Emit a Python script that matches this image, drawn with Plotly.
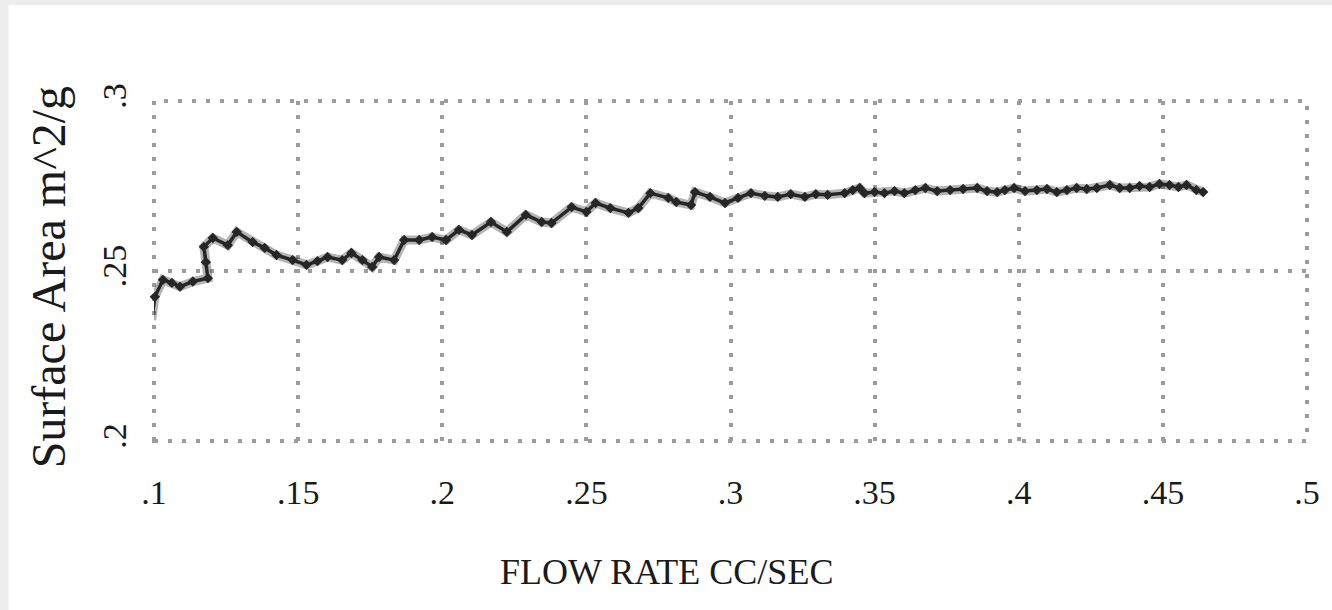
import plotly.graph_objects as go

# Flow rate (cc/sec) and measured surface area (m^2/g)
flow_rate = [
    0.0992, 0.1003, 0.1031, 0.1062, 0.1090, 0.1135, 0.1187, 0.1180, 0.1173, 0.1204,
    0.1256, 0.1287, 0.1342, 0.1384, 0.1425, 0.1481, 0.1529, 0.1567, 0.1602, 0.1653,
    0.1685, 0.1723, 0.1757, 0.1781, 0.1833, 0.1868, 0.1920, 0.1965, 0.2013, 0.2058,
    0.2103, 0.2169, 0.2224, 0.2290, 0.2345, 0.2379, 0.2449, 0.2500, 0.2532, 0.2583,
    0.2646, 0.2680, 0.2722, 0.2784, 0.2812, 0.2863, 0.2877, 0.2929, 0.2981, 0.3026,
    0.3071, 0.3119, 0.3164, 0.3209, 0.3258, 0.3296, 0.3337, 0.3396, 0.3424, 0.3448,
    0.3465, 0.3500, 0.3534, 0.3569, 0.3603, 0.3641, 0.3676, 0.3717, 0.3762, 0.3807,
    0.3856, 0.3890, 0.3925, 0.3952, 0.3984, 0.4022, 0.4063, 0.4098, 0.4132, 0.4167,
    0.4201, 0.4236, 0.4271, 0.4316, 0.4350, 0.4385, 0.4419, 0.4454, 0.4488, 0.4523,
    0.4554, 0.4582, 0.4616, 0.4640,
]
surface_area = [
    0.2356, 0.2424, 0.2474, 0.2465, 0.2454, 0.2469, 0.2479, 0.2526, 0.2571, 0.2597,
    0.2576, 0.2615, 0.2585, 0.2568, 0.2547, 0.2532, 0.2518, 0.2529, 0.2541, 0.2532,
    0.2553, 0.2532, 0.2512, 0.2541, 0.2532, 0.2591, 0.2591, 0.2600, 0.2591, 0.2621,
    0.2606, 0.2644, 0.2615, 0.2665, 0.2644, 0.2641, 0.2688, 0.2674, 0.2700, 0.2685,
    0.2671, 0.2685, 0.2729, 0.2715, 0.2703, 0.2694, 0.2732, 0.2718, 0.2700, 0.2715,
    0.2729, 0.2721, 0.2718, 0.2726, 0.2718, 0.2726, 0.2724, 0.2729, 0.2738, 0.2744,
    0.2729, 0.2732, 0.2729, 0.2735, 0.2729, 0.2738, 0.2744, 0.2735, 0.2738, 0.2741,
    0.2744, 0.2735, 0.2732, 0.2738, 0.2744, 0.2735, 0.2738, 0.2741, 0.2732, 0.2738,
    0.2744, 0.2741, 0.2744, 0.2753, 0.2744, 0.2744, 0.2750, 0.2747, 0.2756, 0.2753,
    0.2747, 0.2753, 0.2738, 0.2732,
]

x_ticks = [0.1, 0.15, 0.2, 0.25, 0.3, 0.35, 0.4, 0.45, 0.5]
x_tick_text = [".1", ".15", ".2", ".25", ".3", ".35", ".4", ".45", ".5"]
y_ticks = [0.2, 0.25, 0.3]
y_tick_text = [".2", ".25", ".3"]

SERIF = "Liberation Serif, Times New Roman, serif"
DOT_COLOR = "#9c9c9c"
DOT_DASH = "4px,10px"
GRID = dict(showgrid=True, gridcolor=DOT_COLOR, gridwidth=4, griddash=DOT_DASH,
            zeroline=False, showline=False, ticks="")

fig = go.Figure()

# soft halo under the series line
fig.add_trace(go.Scatter(
    x=flow_rate, y=surface_area, mode="lines",
    line=dict(color="rgba(40,40,40,0.35)", width=9),
    hoverinfo="skip", showlegend=False, cliponaxis=False,
))
fig.add_trace(go.Scatter(
    x=flow_rate, y=surface_area, mode="lines+markers",
    line=dict(color="#262626", width=3.5),
    marker=dict(symbol="diamond", size=8, color="#262626"),
    showlegend=False, cliponaxis=False,
))

fig.update_layout(
    width=1332, height=610,
    margin=dict(l=154, r=21, t=101, b=169, pad=0),
    paper_bgcolor="#ededed",
    plot_bgcolor="white",
    font=dict(family=SERIF, color="#1a1a1a"),
    xaxis=dict(range=[0.1, 0.5], tickvals=x_ticks, ticktext=x_tick_text,
               tickfont=dict(size=34, family=SERIF), ticklabelstandoff=28, **GRID),
    yaxis=dict(range=[0.2, 0.3], tickvals=y_ticks, ticktext=y_tick_text, tickangle=-90,
               tickfont=dict(size=34, family=SERIF), ticklabelstandoff=20, **GRID),
    shapes=[
        # white page area inside the thin grey frame
        dict(type="rect", xref="paper", yref="paper",
             x0=(8 - 154) / 1157, x1=(1340 - 154) / 1157,
             y0=(441 - 620) / 340, y1=(441 - 5) / 340,
             fillcolor="white", line=dict(width=0), layer="below"),
        # dotted border of the plotting area
        dict(type="rect", xref="paper", yref="paper", x0=0, x1=1, y0=0, y1=1,
             line=dict(color=DOT_COLOR, width=4, dash=DOT_DASH), layer="below"),
    ],
    annotations=[
        dict(text="FLOW RATE CC/SEC", xref="paper", yref="paper",
             x=(668 - 154) / 1157, y=(441 - 572) / 340,
             xanchor="center", yanchor="middle", showarrow=False,
             font=dict(size=36, family=SERIF, color="#1a1a1a")),
        dict(text="Surface Area m^2/g", xref="paper", yref="paper",
             x=(48 - 154) / 1157, y=(441 - 277) / 340, textangle=-90,
             xanchor="center", yanchor="middle", showarrow=False,
             font=dict(size=48, family=SERIF, color="#1a1a1a")),
    ],
)

fig.write_html("out.html")
